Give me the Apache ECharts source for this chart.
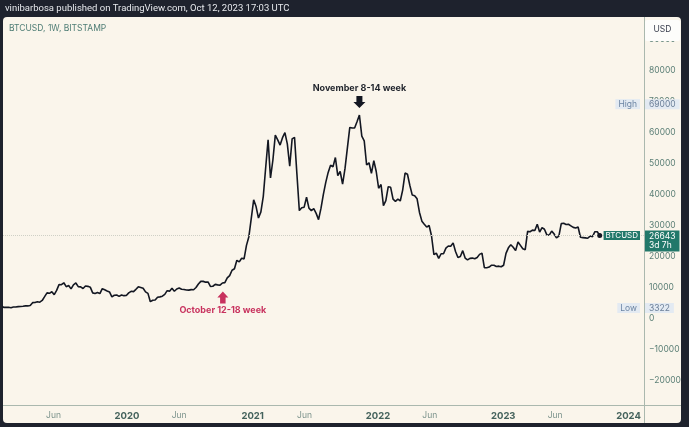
<!DOCTYPE html>
<html>
<head>
<meta charset="utf-8">
<script src="https://cdn.jsdelivr.net/npm/echarts@6/dist/echarts.min.js"></script>
<style>
  html, body { margin: 0; padding: 0; background: #1e222d; }
  #main { width: 689px; height: 427px; }
</style>
</head>
<body>
<div id="main"></div>
<script>
// weekly closes (USD), one array per year, each week starts on a Monday
const closes2018 = [3740, 4040]; // from 2018-12-24
const closes2019 = [3510, 3530, 3540, 3410, 3660, 3620, 3770, 3810, 3900, 4000, 3990, 4100,
  5040, 5070, 5310, 5180, 5750, 6970, 8200, 8050, 8550, 7630, 8990, 10850, 10820,
  11450, 10200, 10540, 9480, 10800, 11380, 10220, 10140, 9600, 10400, 10300, 10030, 8200, 7990,
  8300, 7960, 9550, 9200, 8800, 8500, 6900, 7420, 7500, 7080, 7510, 7300, 7350];
const closes2020 = [8180, 8700, 8600, 9340, 10140, 9930, 9670, 8530, 8030, 5360, 5830, 5880, 6780,
  6910, 7120, 7700, 8900, 8750, 9670, 8720, 9450, 9760, 9340, 9300, 9120, 9080,
  9250, 9200, 9930, 11060, 11900, 11900, 11650, 11700, 10250, 10330, 10930, 10780, 10670,
  11380, 11500, 13030, 13760, 15480, 15960, 18680, 18180, 19350, 19150, 23500, 26300, 32200];
const closes2021 = [38200, 36000, 32300, 34300, 39300, 48600, 57500, 45200, 51000, 59000, 57500, 55800, 58200,
  59800, 56200, 49000, 57800, 58300, 46400, 34700, 35600, 35800, 39000, 35500, 34700, 35300,
  33800, 31800, 35400, 39900, 43800, 47000, 49300, 48800, 51800, 46000, 47300, 43200, 48200,
  54900, 61500, 61300, 61300, 63300, 65500, 58700, 57200, 49400, 50100, 46700, 50800, 47300];
const closes2022 = [41900, 43100, 36300, 37900, 42400, 42200, 38400, 37700, 38400, 37800, 41300, 46800, 46400,
  42800, 39700, 39500, 38500, 34100, 31300, 30300, 29400, 29900, 26600, 20500, 21000, 19300,
  20800, 20800, 22600, 23300, 23200, 24300, 21500, 19600, 19900, 21800, 19400, 18800, 19300,
  19400, 19200, 19600, 20600, 21000, 16300, 16300, 16500, 17100, 17100, 16700, 16800, 16600];
const closes2023 = [17100, 20900, 22700, 23700, 22900, 21800, 24600, 23500, 22400, 22100, 28000, 27900, 28400,
  28300, 30300, 27800, 29200, 28700, 26900, 26800, 28100, 27200, 25900, 26500, 30500, 30600,
  30200, 30300, 29800, 29300, 29100, 29400, 26100, 26000, 25900, 25800, 26500, 26300, 27900,
  27900, 26643];

const yTicks = [-20000, -10000, 0, 10000, 20000, 30000, 40000, 50000, 60000, 70000, 80000, 90000];
const xTicks = ['2019-06-01', '2020-01-01', '2020-06-01', '2021-01-01', '2021-06-01',
  '2022-01-01', '2022-06-01', '2023-01-01', '2023-06-01', '2024-01-01'];

const lastPrice = 26643;
const highPrice = 69000;
const lowPrice = 3322;
const novWeek = '2021-11-08';
const octWeek = '2020-10-12';

const DAY = 86400000;
const utc = s => Date.parse(s + 'T00:00:00Z');

function weekly(start, closes) {
  return closes.map((v, i) => [utc(start) + i * 7 * DAY, v]);
}

const data = [].concat(
  weekly('2018-12-24', closes2018),
  weekly('2019-01-07', closes2019),
  weekly('2020-01-06', closes2020),
  weekly('2021-01-04', closes2021),
  weekly('2022-01-03', closes2022),
  weekly('2023-01-02', closes2023)
);
const lastPoint = data[data.length - 1];

const X_MIN = Date.UTC(2019, 0, 4, 19);
const X_MAX = Date.UTC(2024, 1, 15);
const Y_MIN = -27930;
const Y_MAX = 96750;

const DARK = '#1e222d';
const CREAM = '#faf5eb';
const TEAL = '#22786a';
const FONT = 'Inter';

const chart = echarts.init(document.getElementById('main'));

const option = {
  animation: false,
  backgroundColor: DARK,
  textStyle: { fontFamily: FONT },
  graphic: [
    { type: 'rect', z: -10, shape: { x: 3, y: 17, width: 678, height: 406, r: 4 }, style: { fill: CREAM } },
    { type: 'text', x: 5, y: 9, style: { text: 'vinibarbosa published on TradingView.com, Oct 12, 2023 17:03 UTC',
      fill: '#e6e8ec', font: '9.5px Roboto', verticalAlign: 'middle' } },
    { type: 'text', x: 9, y: 28.5, style: { text: 'BTCUSD, 1W, BITSTAMP', fill: '#4f7d75',
      font: '8.5px ' + FONT, verticalAlign: 'middle' } },
    { type: 'line', shape: { x1: 644.5, y1: 17, x2: 644.5, y2: 423 }, style: { stroke: '#aab8ae', lineWidth: 1 } },
    { type: 'line', shape: { x1: 3, y1: 405.5, x2: 681, y2: 405.5 }, style: { stroke: '#aab8ae', lineWidth: 1 } },
    { type: 'rect', z: 50, shape: { x: 645, y: 20, width: 35, height: 21, r: 2 }, style: { fill: '#fdfdfb' } },
    { type: 'text', z: 51, x: 662.5, y: 29, style: { text: 'USD', fill: '#3c4150', font: '8.5px ' + FONT,
      align: 'center', verticalAlign: 'middle' } }
  ],
  grid: { left: 3, right: 45, top: 18, bottom: 22 },
  xAxis: {
    type: 'value',
    min: X_MIN,
    max: X_MAX,
    axisLine: { show: false },
    axisTick: { show: false },
    splitLine: { show: false },
    axisLabel: {
      customValues: xTicks.map(utc),
      margin: 6,
      formatter: v => {
        const d = new Date(v);
        return d.getUTCMonth() === 0 ? '{y|' + d.getUTCFullYear() + '}' : '{m|Jun}';
      },
      rich: {
        y: { fontWeight: 'bold', color: '#44625c', fontSize: 9.5, fontFamily: FONT },
        m: { color: '#7d948d', fontSize: 8.5, fontFamily: FONT }
      }
    }
  },
  yAxis: {
    type: 'value',
    position: 'right',
    min: Y_MIN,
    max: Y_MAX,
    axisLine: { show: false },
    axisTick: { show: false },
    splitLine: { show: false },
    axisLabel: {
      customValues: yTicks,
      align: 'left',
      margin: 5,
      fontSize: 8.5,
      color: '#5b7f76',
      formatter: v => (v < 0 ? '\u2212' + Math.abs(v) : String(v))
    }
  },
  series: [{
    type: 'line',
    data: data,
    showSymbol: false,
    lineStyle: { color: '#131722', width: 1.6 },
    markLine: {
      silent: true,
      symbol: ['none', 'none'],
      label: { show: false },
      lineStyle: { type: 'dotted', color: '#cfd0c6', width: 1 },
      data: [{ yAxis: lastPrice }]
    },
    markPoint: {
      silent: true,
      data: [
        {
          coord: [utc(novWeek), 65500],
          symbol: 'path://M3,0 L9,0 L9,6 L12,6 L6,12 L0,6 L3,6 Z',
          symbolSize: [12, 12],
          symbolOffset: [0, -13],
          itemStyle: { color: '#131722' },
          label: { show: true, position: 'top', distance: 3, formatter: 'November 8-14 week',
            fontWeight: 'bold', fontSize: 9, color: '#1f232b' }
        },
        {
          coord: [utc(octWeek), 11500],
          symbol: 'path://M6,0 L12,6 L9,6 L9,12 L3,12 L3,6 L0,6 Z',
          symbolSize: [11, 12],
          symbolOffset: [-2, 15],
          itemStyle: { color: '#c8325e' },
          label: { show: true, position: 'bottom', distance: 2, formatter: 'October 12-18 week',
            fontWeight: 'bold', fontSize: 9, color: '#c8325e' }
        },
        {
          coord: lastPoint, symbol: 'circle', symbolSize: 5,
          itemStyle: { color: '#131722' }, label: { show: false }
        },
        {
          coord: [X_MAX, lastPrice], symbol: 'rect', symbolSize: 0,
          label: { show: true, position: 'left', distance: 4, formatter: 'BTCUSD',
            backgroundColor: TEAL, color: '#ffffff', fontSize: 8, padding: [1, 2, 0, 2] }
        },
        {
          coord: [X_MAX, lastPrice], symbol: 'rect', symbolSize: 0,
          label: { show: true, position: [1, -5], align: 'left', verticalAlign: 'top',
            formatter: lastPrice + '\n3d 7h', lineHeight: 9.5,
            backgroundColor: TEAL, color: '#ffffff', fontSize: 8.5, padding: [1, 4, 1, 4] }
        },
        {
          coord: [X_MAX, highPrice], symbol: 'rect', symbolSize: 0,
          label: { show: true, position: 'left', distance: 4, formatter: 'High',
            backgroundColor: '#e3eaf2', color: '#6b84a3', fontSize: 8.5, padding: [1, 3, 0, 3] }
        },
        {
          coord: [X_MAX, highPrice], symbol: 'rect', symbolSize: 0,
          label: { show: true, position: 'right', distance: 1, formatter: String(highPrice),
            backgroundColor: '#e3eaf2', color: '#6b7f98', fontSize: 8.5, padding: [1, 4, 0, 4] }
        },
        {
          coord: [X_MAX, lowPrice], symbol: 'rect', symbolSize: 0,
          label: { show: true, position: 'left', distance: 4, formatter: 'Low',
            backgroundColor: '#e3eaf2', color: '#6b84a3', fontSize: 8.5, padding: [1, 3, 0, 3] }
        },
        {
          coord: [X_MAX, lowPrice], symbol: 'rect', symbolSize: 0,
          label: { show: true, position: 'right', distance: 1, formatter: String(lowPrice),
            backgroundColor: '#e3eaf2', color: '#6b7f98', fontSize: 8.5, padding: [1, 4, 0, 4] }
        }
      ]
    }
  }]
};

chart.setOption(option);
</script>
</body>
</html>
